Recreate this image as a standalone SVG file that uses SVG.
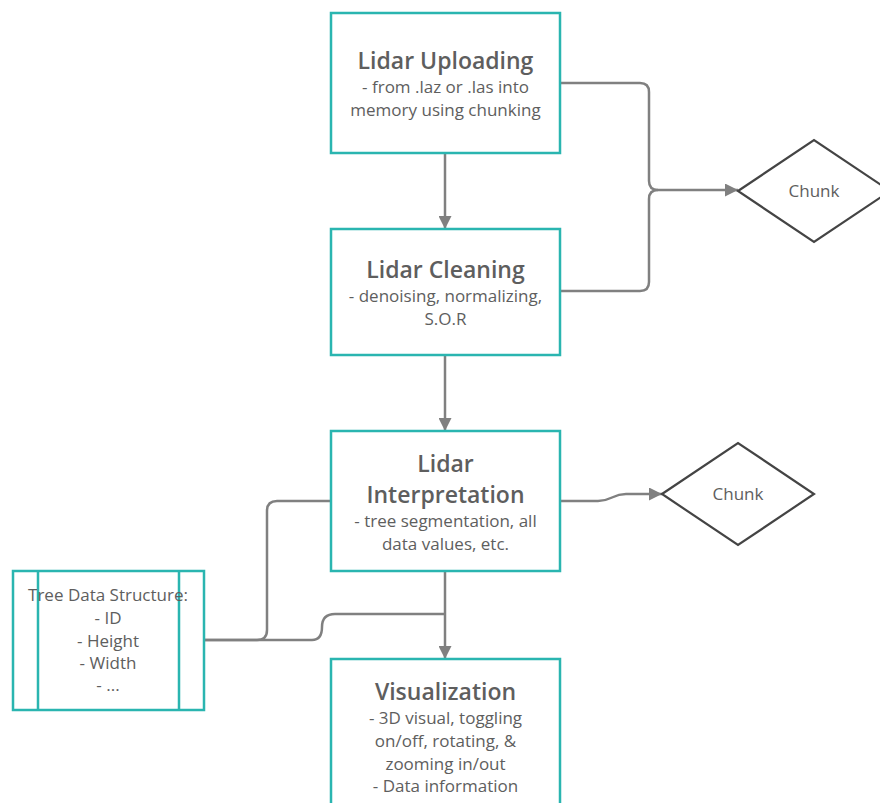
<svg xmlns="http://www.w3.org/2000/svg" width="880" height="803" viewBox="0 0 880 803">
<defs>
<style>
.box{fill:#fff;stroke:#2ab5b0;stroke-width:2.5}
.dia{fill:#fff;stroke:#444;stroke-width:2.2}
.c{fill:none;stroke:#808080;stroke-width:2.5}
.t{font-family:"Open Sans","Noto Sans",sans-serif;fill:#5e5e5e;text-anchor:middle}
.h{font-size:23px;font-weight:600}
.b{font-size:17px}
</style>
<marker id="ah" viewBox="0 0 10 10" refX="10" refY="5" markerWidth="13" markerHeight="13" markerUnits="userSpaceOnUse" orient="auto">
<path d="M0,0 L10,5 L0,10 Z" fill="#808080"/>
</marker>
</defs>
<rect width="880" height="803" fill="#fff"/>
<g id="connectors">
<path class="c" d="M445,153 V229" marker-end="url(#ah)"/>
<path class="c" d="M445,355 V431" marker-end="url(#ah)"/>
<path class="c" d="M445,571 V659" marker-end="url(#ah)"/>
<path class="c" d="M560,83 H640 Q649,83 649,92 V181 Q649,190 658,190 H738" marker-end="url(#ah)"/>
<path class="c" d="M560,291 H640 Q649,291 649,282 V199 Q649,190 658,190"/>
<path class="c" d="M560,501 H598 C612,501 612,494 626,494 H662" marker-end="url(#ah)"/>
<path class="c" d="M204,640 H257 Q267,640 267,630 V511 Q267,501 277,501 H331"/>
<path class="c" d="M204,640 H312 Q322,640 322,627 Q322,614 335,614 H445"/>
</g>
<g id="n1"><rect class="box" x="331" y="13" width="229" height="140"/>
<text class="t h" x="445.5" y="69">Lidar Uploading</text>
<text class="t b" x="445.5" y="93">- from .laz or .las into</text>
<text class="t b" x="445.5" y="116">memory using chunking</text></g>
<g id="n2"><rect class="box" x="331" y="229" width="229" height="126"/>
<text class="t h" x="445.5" y="278">Lidar Cleaning</text>
<text class="t b" x="445.5" y="302">- denoising, normalizing,</text>
<text class="t b" x="445.5" y="325">S.O.R</text></g>
<g id="n3"><rect class="box" x="331" y="431" width="229" height="140"/>
<text class="t h" x="445.5" y="472">Lidar</text>
<text class="t h" x="445.5" y="503">Interpretation</text>
<text class="t b" x="445.5" y="527">- tree segmentation, all</text>
<text class="t b" x="445.5" y="550">data values, etc.</text></g>
<g id="n4"><rect class="box" x="331" y="659" width="229" height="160"/>
<text class="t h" x="445.5" y="700">Visualization</text>
<text class="t b" x="445.5" y="724">- 3D visual, toggling</text>
<text class="t b" x="445.5" y="747">on/off, rotating, &amp;</text>
<text class="t b" x="445.5" y="770">zooming in/out</text>
<text class="t b" x="445.5" y="792">- Data information</text></g>
<g id="tree"><rect class="box" x="13" y="571" width="191" height="139"/>
<path class="box" d="M38,571 V710 M179,571 V710"/>
<text class="t b" x="108" y="601">Tree Data Structure:</text>
<text class="t b" x="108" y="624">- ID</text>
<text class="t b" x="108" y="647">- Height</text>
<text class="t b" x="108" y="669">- Width</text>
<text class="t b" x="108" y="691">- ...</text></g>
<g id="chunk1"><path class="dia" d="M738,191 L814,140 L890,191 L814,242 Z"/>
<text class="t b" x="814" y="197">Chunk</text></g>
<g id="chunk2"><path class="dia" d="M662,494 L738,443 L814,494 L738,545 Z"/>
<text class="t b" x="738" y="500">Chunk</text></g>
</svg>
